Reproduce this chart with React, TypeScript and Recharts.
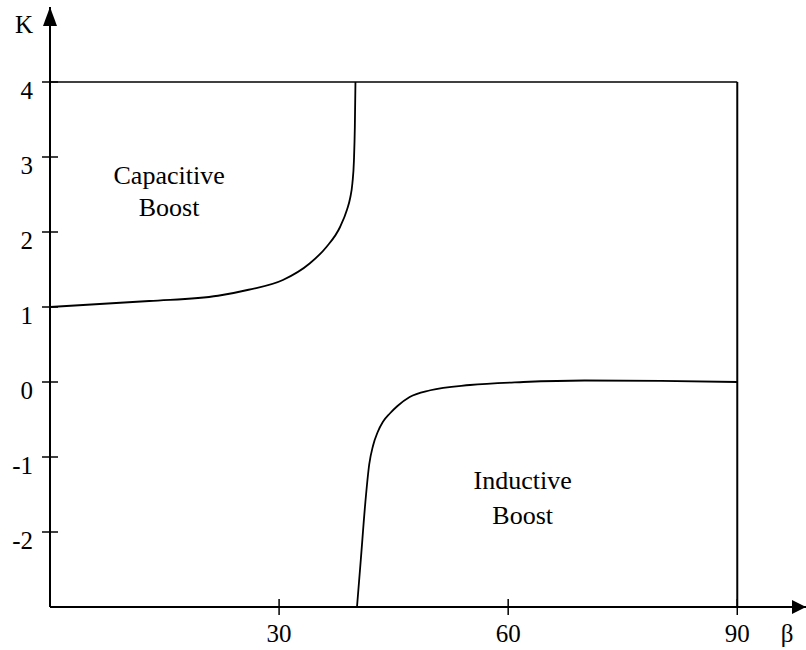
import { LineChart, Line, XAxis, YAxis, ReferenceLine, ReferenceDot } from "recharts";

// capacitive boost boundary (upper curve)
const upperBeta = [0, 13, 22, 26, 30.5, 34, 36.2, 38, 38.9, 39.3, 39.6, 39.8, 39.92, 40];
const upperK = [1, 1.08, 1.15, 1.23, 1.36, 1.58, 1.8, 2.07, 2.3, 2.45, 2.65, 2.95, 3.4, 4];

// inductive boost boundary (lower curve)
const lowerBeta = [40.2, 40.7, 41.3, 41.8, 42.3, 42.9, 43.6, 44.5, 45.5, 47.1, 49.8, 55, 62, 70, 80, 90];
const lowerK = [-3, -2.37, -1.6, -1.1, -0.85, -0.67, -0.53, -0.42, -0.32, -0.2, -0.11, -0.04, 0, 0.02, 0.015, 0];

const xTicks = [30, 60, 90];
const yTicks = [-2, -1, 0, 1, 2, 3, 4];

const regionLabels = [
  { b: 15.6, k: 2.64, text: "Capacitive" },
  { b: 15.6, k: 2.21, text: "Boost" },
  { b: 61.9, k: -1.43, text: "Inductive" },
  { b: 61.9, k: -1.89, text: "Boost" },
];

const upperData = upperBeta.map((b, i) => ({ b, k: upperK[i] }));
const lowerData = lowerBeta.map((b, i) => ({ b, k: lowerK[i] }));

const FONT = '"Times New Roman", Times, "Liberation Serif", Tinos, "Noto Serif", "DejaVu Serif", serif';
const txt = { fontFamily: FONT, fontSize: 25 };

const YTick = (props: any) => {
  const { x, y, payload } = props;
  return (
    <g>
      <line x1={x - 8} x2={x + 8} y1={y} y2={y} stroke="#000" strokeWidth={1.5} />
      <text x={x - 17} y={y + 17} textAnchor="end" style={txt} fill="#000">
        {payload.value}
      </text>
    </g>
  );
};

const XTick = (props: any) => {
  const { x, y, payload } = props;
  return (
    <g>
      <line x1={x} x2={x} y1={y - 8} y2={y + 8} stroke="#000" strokeWidth={1.5} />
      <text x={x} y={y + 35} textAnchor="middle" style={txt} fill="#000">
        {payload.value}
      </text>
    </g>
  );
};

export default function App() {
  return (
    <div style={{ position: "absolute", left: 0, top: 0, background: "#fff", fontFamily: FONT }}>
      <LineChart width={806} height={650} margin={{ top: 7, right: 0, bottom: 0, left: 0 }}>
        <XAxis
          type="number"
          dataKey="b"
          domain={[0, 99]}
          ticks={xTicks}
          interval={0}
          height={43}
          tickSize={0}
          tickMargin={0}
          tickLine={false}
          axisLine={{ stroke: "#000", strokeWidth: 2 }}
          tick={<XTick />}
          allowDataOverflow
        />
        <YAxis
          type="number"
          dataKey="k"
          domain={[-3, 5]}
          ticks={yTicks}
          interval={0}
          width={50}
          tickSize={0}
          tickMargin={0}
          tickLine={false}
          axisLine={{ stroke: "#000", strokeWidth: 2 }}
          tick={<YTick />}
          allowDataOverflow
        />
        <ReferenceLine
          segment={[{ x: 0, y: 4 }, { x: 90, y: 4 }]}
          stroke="#000"
          strokeWidth={1.5}
        />
        <ReferenceLine
          segment={[{ x: 90, y: -3 }, { x: 90, y: 4 }]}
          stroke="#000"
          strokeWidth={2}
        />
        <Line
          data={upperData}
          dataKey="k"
          type="monotone"
          stroke="#000"
          strokeWidth={1.8}
          dot={false}
          isAnimationActive={false}
        />
        <Line
          data={lowerData}
          dataKey="k"
          type="monotone"
          stroke="#000"
          strokeWidth={1.8}
          dot={false}
          isAnimationActive={false}
        />
        {regionLabels.map((l, i) => (
          <ReferenceDot
            key={i}
            x={l.b}
            y={l.k}
            ifOverflow="visible"
            shape={(p: any) => (
              <text x={p.cx} y={p.cy} textAnchor="middle" style={{ ...txt, fontSize: 26 }} fill="#000">
                {l.text}
              </text>
            )}
          />
        ))}
        <ReferenceDot
          x={0}
          y={5}
          ifOverflow="visible"
          shape={(p: any) => (
            <g>
              <polygon
                points={`${p.cx},${p.cy} ${p.cx - 7},${p.cy + 19} ${p.cx + 7},${p.cy + 19}`}
                fill="#000"
              />
              <text x={p.cx - 26} y={p.cy + 26} textAnchor="middle" style={txt} fill="#000">
                K
              </text>
            </g>
          )}
        />
        <ReferenceDot
          x={99}
          y={-3}
          ifOverflow="visible"
          shape={(p: any) => (
            <g>
              <polygon
                points={`${p.cx},${p.cy} ${p.cx - 14},${p.cy - 7} ${p.cx - 14},${p.cy + 7}`}
                fill="#000"
              />
              <text x={p.cx - 19} y={p.cy + 35} textAnchor="middle" style={txt} fill="#000">
                β
              </text>
            </g>
          )}
        />
      </LineChart>
    </div>
  );
}
